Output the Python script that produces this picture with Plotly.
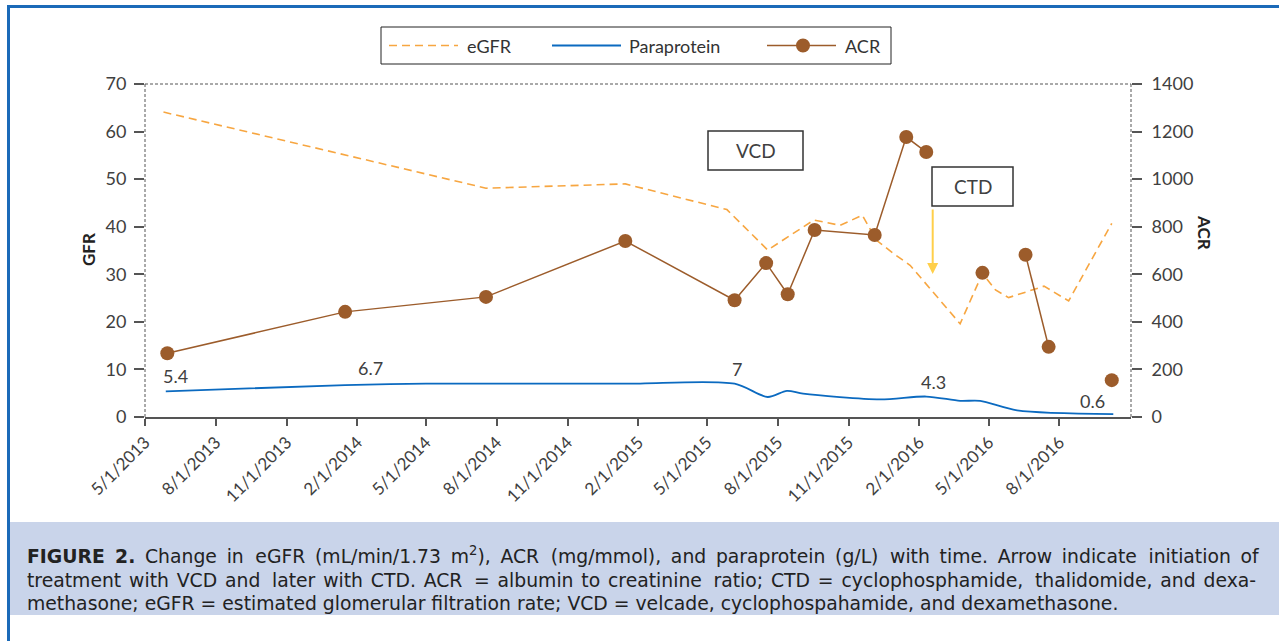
import plotly.graph_objects as go

# ---------------- data ----------------
egfr_dates = ["2013-05-25", "2014-07-18", "2015-01-15", "2015-05-27", "2015-07-19",
              "2015-09-17", "2015-10-21", "2015-11-19", "2015-12-07", "2015-12-29",
              "2016-01-20", "2016-02-06", "2016-03-25", "2016-04-23", "2016-05-10",
              "2016-05-27", "2016-07-12", "2016-08-13", "2016-10-08"]
egfr_values = [64.1, 48.1, 49.0, 43.6, 35.1,
               41.4, 40.3, 42.4, 37.2, 34.4,
               31.9, 28.7, 19.6, 30.2, 26.7,
               25.1, 27.5, 24.4, 40.7]

para_dates = ["2013-05-28", "2014-01-16", "2014-05-01", "2015-01-15", "2015-06-06",
              "2015-07-19", "2015-08-13", "2015-09-03", "2015-12-12", "2016-02-10",
              "2016-03-25", "2016-04-20", "2016-06-07", "2016-10-10"]
para_values = [5.4, 6.7, 7.0, 7.0, 7.0,
               4.2, 5.5, 4.9, 3.7, 4.3,
               3.4, 3.4, 1.4, 0.6]
para_labelled = [0, 1, 4, 9, 13]          # points whose value is printed

# None entries break the ACR line between unconnected measurements
acr_dates = ["2013-05-30", "2014-01-16", "2014-07-18", "2015-01-15", "2015-06-06",
             "2015-07-17", "2015-08-14", "2015-09-18", "2015-12-05", "2016-01-15",
             "2016-02-10", "2016-03-15", "2016-04-23", "2016-05-20", "2016-06-18",
             "2016-07-18", "2016-08-20", "2016-10-08"]
acr_values = [268, 442, 505, 740, 491,
              647, 516, 786, 765, 1177,
              1114, None, 606, None, 682,
              295, None, 155]

tick_dates = ["2013-05-01", "2013-08-01", "2013-11-01", "2014-02-01", "2014-05-01",
              "2014-08-01", "2014-11-01", "2015-02-01", "2015-05-01", "2015-08-01",
              "2015-11-01", "2016-02-01", "2016-05-01", "2016-08-01"]
tick_text = ["5/1/2013", "8/1/2013", "11/1/2013", "2/1/2014", "5/1/2014",
             "8/1/2014", "11/1/2014", "2/1/2015", "5/1/2015", "8/1/2015",
             "11/1/2015", "2/1/2016", "5/1/2016", "8/1/2016"]

caption_lines = [
    "<b>FIGURE 2.</b> Change in eGFR (mL/min/1.73 m<sup>2</sup>), ACR (mg/mmol), and paraprotein (g/L) with time. Arrow indicate initiation of",
    "treatment with VCD and later with CTD. ACR = albumin to creatinine ratio; CTD = cyclophosphamide, thalidomide, and dexa-",
    "methasone; eGFR = estimated glomerular filtration rate; VCD = velcade, cyclophospahamide, and dexamethasone.",
]

THIN, HAIR = "\u2009", "\u200a"
# word spacing for the justified caption: (added to every gap, added to every n-th gap, n)
caption_pad = [(THIN, HAIR, 4), (HAIR, THIN, 4), ("", "", 0)]


def spread(line, base, extra, every):
    words = line.split(" ")
    out = words[0]
    for k, w in enumerate(words[1:], 1):
        gap = " " + base + (extra if every and k % every == 0 else "")
        out += gap + w
    return out


# ---------------- styling ----------------
W, H = 1279, 641
PL, PR, PT, PB = 145, 1131, 84, 417          # plot-area edges in pixels
FONT = "Lato, Open Sans, sans-serif"
CAP_FONT = "DejaVu Sans, sans-serif"
TXT = "#404040"
AX = "#555555"
C_EGFR = "#F7A641"
C_PARA = "#0B6AC0"
C_ACR = "#9C5C2B"


def fx(px):
    return (px - PL) / (PR - PL)


def fy(py):
    return (PB - py) / (PB - PT)


fig = go.Figure()

fig.add_trace(go.Scatter(
    x=egfr_dates, y=egfr_values, name="eGFR", mode="lines",
    line=dict(color=C_EGFR, width=1.6, dash="8px,5px"),
    yaxis="y"))

fig.add_trace(go.Scatter(
    x=para_dates, y=para_values, name="Paraprotein", mode="lines",
    line=dict(color=C_PARA, width=1.8, shape="spline", smoothing=0.8),
    yaxis="y"))

fig.add_trace(go.Scatter(
    x=acr_dates, y=acr_values, name="ACR", mode="lines+markers",
    line=dict(color=C_ACR, width=1.5),
    marker=dict(color=C_ACR, size=14),
    connectgaps=False, yaxis="y2"))

# value labels on the paraprotein curve
label_shift = [(10, 15), (25, 17), (2, 15), (7, 15), (-21, 13)]
annotations = []
for i, (dx, dy) in zip(para_labelled, label_shift):
    annotations.append(dict(
        x=para_dates[i], y=para_values[i], xref="x", yref="y",
        text=f"{para_values[i]:g}", showarrow=False,
        xanchor="center", yanchor="middle",
        xshift=dx, yshift=dy, font=dict(family=FONT, size=18, color=TXT)))

shapes = []

# dashed frame on left, top and right
for x0, y0, x1, y1 in [(0, 0, 0, 1), (0, 1, 1, 1), (1, 0, 1, 1)]:
    shapes.append(dict(type="line", xref="paper", yref="paper",
                       x0=x0, y0=y0, x1=x1, y1=y1,
                       line=dict(color=AX, width=1, dash="3px,2px")))

# outer blue frame and caption panel
shapes.append(dict(type="rect", xref="paper", yref="paper",
                   x0=fx(10), x1=fx(W + 5), y0=fy(522), y1=fy(615),
                   fillcolor="#C9D4EA", line=dict(width=0), layer="below"))
shapes.append(dict(type="line", xref="paper", yref="paper",
                   x0=fx(7), x1=fx(W + 5), y0=fy(6.5), y1=fy(6.5),
                   line=dict(color="#1B6AB8", width=3)))
shapes.append(dict(type="line", xref="paper", yref="paper",
                   x0=fx(8.5), x1=fx(8.5), y0=fy(5), y1=fy(H + 5),
                   line=dict(color="#1B6AB8", width=3)))

# legend box
LEG_Y = 45.5
shapes.append(dict(type="rect", xref="paper", yref="paper",
                   x0=fx(381), x1=fx(891), y0=fy(64), y1=fy(27),
                   fillcolor="white", line=dict(color="#222222", width=1)))
shapes.append(dict(type="line", xref="paper", yref="paper",
                   x0=fx(389), x1=fx(458), y0=fy(LEG_Y), y1=fy(LEG_Y),
                   line=dict(color=C_EGFR, width=1.6, dash="8px,5px")))
shapes.append(dict(type="line", xref="paper", yref="paper",
                   x0=fx(552), x1=fx(621), y0=fy(LEG_Y), y1=fy(LEG_Y),
                   line=dict(color=C_PARA, width=1.8)))
shapes.append(dict(type="line", xref="paper", yref="paper",
                   x0=fx(767), x1=fx(836), y0=fy(LEG_Y), y1=fy(LEG_Y),
                   line=dict(color=C_ACR, width=1.5)))
shapes.append(dict(type="circle", xref="paper", yref="paper",
                   x0=fx(796), x1=fx(810), y0=fy(LEG_Y + 7), y1=fy(LEG_Y - 7),
                   fillcolor=C_ACR, line=dict(color=C_ACR, width=0)))
for lx, name in [(465, "eGFR"), (627, "Paraprotein"), (843, "ACR")]:
    annotations.append(dict(x=fx(lx), y=fy(LEG_Y), xref="paper", yref="paper",
                            text=name, showarrow=False, xanchor="left", yanchor="middle",
                            font=dict(family=FONT, size=18, color="#333333")))

# treatment boxes
for (x0, x1, y0, y1, name) in [(708, 803, 131, 170, "VCD"), (932, 1013, 167, 206, "CTD")]:
    shapes.append(dict(type="rect", xref="paper", yref="paper",
                       x0=fx(x0), x1=fx(x1), y0=fy(y1), y1=fy(y0),
                       fillcolor="white", line=dict(color="#333333", width=1.5)))
    annotations.append(dict(x=fx((x0 + x1) / 2), y=fy((y0 + y1) / 2),
                            xref="paper", yref="paper", text=name, showarrow=False,
                            xanchor="center", yanchor="middle",
                            font=dict(family=FONT, size=19, color=TXT)))

# arrow marking the start of CTD
annotations.append(dict(x=fx(932.7), y=fy(274), xref="paper", yref="paper",
                        ax=0, ay=-77, axref="pixel", ayref="pixel",
                        showarrow=True, arrowhead=2, arrowsize=1.1, arrowwidth=2,
                        arrowcolor="#FFCF4A", text=" "))

# axis titles
annotations.append(dict(x=fx(88), y=fy(250), xref="paper", yref="paper",
                        text="<b>GFR</b>", showarrow=False, textangle=-90,
                        xanchor="center", yanchor="middle",
                        font=dict(family=FONT, size=17, color="#222222")))
annotations.append(dict(x=fx(1205), y=fy(232), xref="paper", yref="paper",
                        text="<b>ACR</b>", showarrow=False, textangle=90,
                        xanchor="center", yanchor="middle",
                        font=dict(family=FONT, size=17, color="#222222")))

# caption
for line, pad, py in zip(caption_lines, caption_pad, [555, 580, 603]):
    annotations.append(dict(x=fx(25), y=fy(py), xref="paper", yref="paper",
                            text=spread(line, *pad), showarrow=False,
                            xanchor="left", yanchor="middle",
                            font=dict(family=CAP_FONT, size=18.8, color="#222222")))

fig.update_layout(
    width=W, height=H,
    margin=dict(l=PL, r=W - PR, t=PT, b=H - PB, pad=0),
    paper_bgcolor="white", plot_bgcolor="white",
    showlegend=False,
    font=dict(family=FONT, size=18, color=TXT),
    xaxis=dict(type="date", range=["2013-05-01", "2016-11-02"],
               tickvals=tick_dates, ticktext=tick_text, tickangle=-45,
               ticks="outside", ticklen=7, tickcolor=AX, tickwidth=1.5,
               showline=True, linecolor=AX, linewidth=1.5,
               showgrid=False, zeroline=False,
               tickfont=dict(family=FONT, size=17, color=TXT)),
    yaxis=dict(range=[0, 70], dtick=10, ticks="outside", ticklen=10,
               tickcolor=AX, tickwidth=1.5, showline=False, showgrid=False,
               zeroline=False, ticklabelstandoff=4,
               tickfont=dict(family=FONT, size=18, color=TXT)),
    yaxis2=dict(range=[0, 1400], dtick=200, overlaying="y", side="right",
                ticks="outside", ticklen=10, tickcolor=AX, tickwidth=1.5,
                showline=False, showgrid=False, zeroline=False,
                ticklabelstandoff=6,
                tickfont=dict(family=FONT, size=18, color=TXT)),
    shapes=shapes,
    annotations=annotations,
)

fig.write_html("out.html")
